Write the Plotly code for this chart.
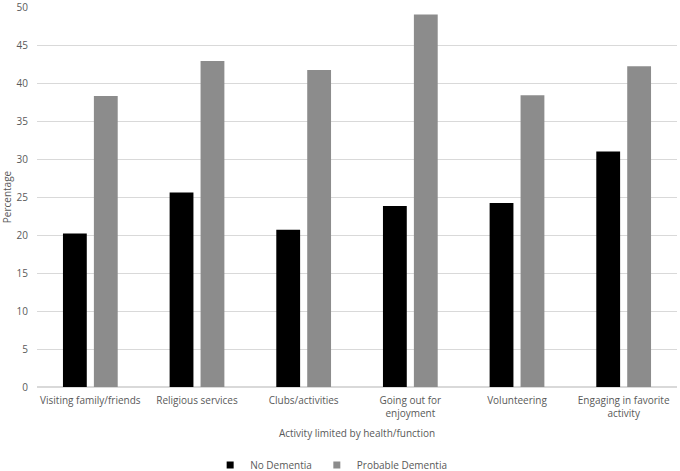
import plotly.graph_objects as go

# Données
activites = [
    "Visiting family/friends",
    "Religious services",
    "Clubs/activities",
    "Going out for<br>enjoyment",
    "Volunteering",
    "Engaging in favorite<br>activity",
]
no_dementia = [20.2, 25.6, 20.7, 23.8, 24.2, 31.0]
probable_dementia = [38.3, 42.9, 41.7, 49.0, 38.4, 42.2]
series = [("No Dementia", no_dementia, "#000000"),
          ("Probable Dementia", probable_dementia, "#8c8c8c")]

fig = go.Figure()
for nom, valeurs, couleur in series:
    fig.add_trace(go.Bar(x=activites, y=valeurs, name=nom, legendgroup=nom,
                         showlegend=False,
                         marker=dict(color=couleur, line=dict(width=0))))
# Entrées de légende avec petits carrés (style Excel)
for nom, valeurs, couleur in series:
    fig.add_trace(go.Scatter(x=[None], y=[None], mode="markers", name=nom,
                             legendgroup=nom,
                             marker=dict(symbol="square", size=7, color=couleur)))

fig.update_layout(
    width=680, height=471,
    barmode="group", bargap=0.42, bargroupgap=0.23,
    plot_bgcolor="white", paper_bgcolor="white",
    font=dict(family="Open Sans", size=10, color="#595959"),
    margin=dict(l=37, r=3, t=7, b=84, autoexpand=False),
    legend=dict(orientation="h", xref="container", yref="container",
                xanchor="center", x=0.487, yanchor="middle", y=0.013,
                font=dict(size=10), itemwidth=30),
    yaxis=dict(range=[0, 50], tickvals=list(range(0, 55, 5)),
               showgrid=True, gridcolor="#d9d9d9",
               zeroline=True, zerolinecolor="#d9d9d9", showline=False,
               automargin=False, ticklabeloverflow="allow",
               title=dict(text="Percentage", standoff=10, font=dict(size=10)),
               ticks="outside", ticklen=6, tickcolor="rgba(0,0,0,0)",
               tickfont=dict(size=10)),
    xaxis=dict(showline=False, automargin=False,
               ticks="outside", ticklen=4, tickcolor="rgba(0,0,0,0)",
               tickfont=dict(size=10),
               title=dict(text="Activity limited by health/function", standoff=10,
                          font=dict(size=10))),
)

# Suppression de la marge par défaut du navigateur
fig.write_html("out.html", config={"displayModeBar": False},
               post_script="document.body.style.margin='0';")
